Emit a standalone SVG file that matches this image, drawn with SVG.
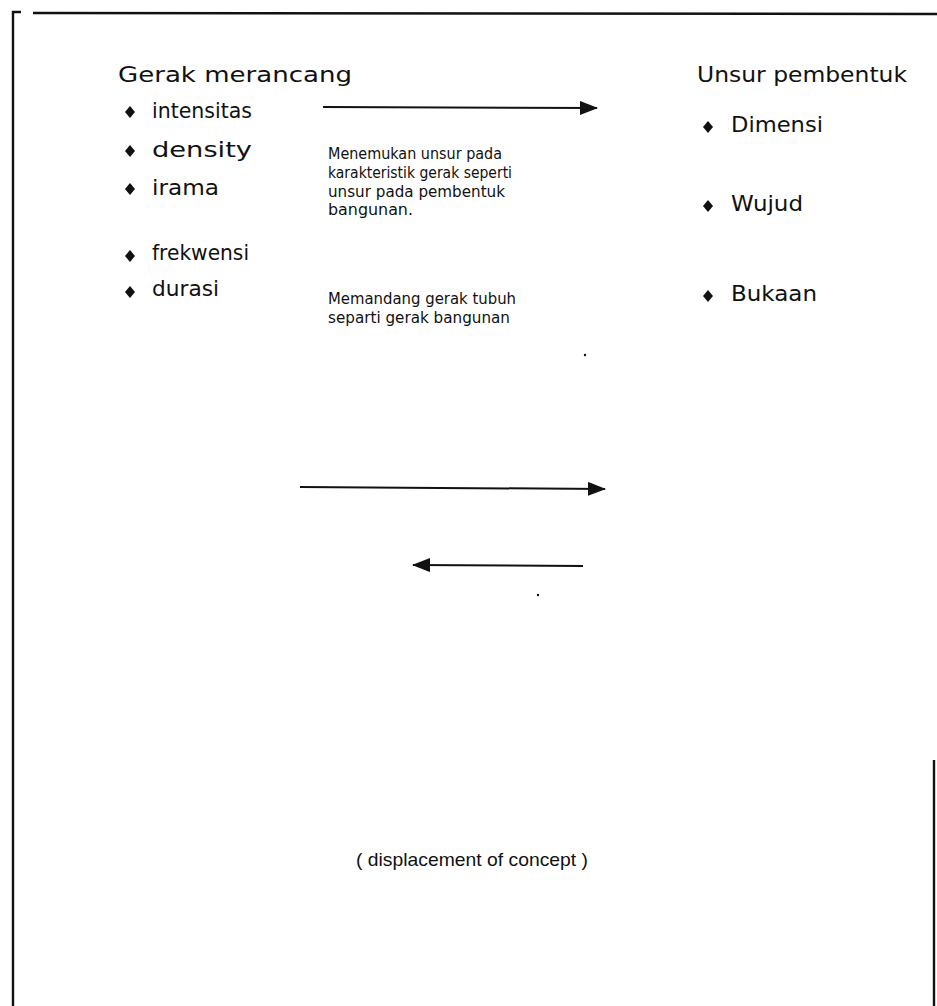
<svg xmlns="http://www.w3.org/2000/svg" width="937" height="1006" viewBox="0 0 937 1006">
<style>
text{font-family:"DejaVu Sans","Liberation Sans",sans-serif;fill:#111}
.h{font-size:21px}
.b{font-size:21px}
.m{font-size:15.5px}
.c{font-size:19px;font-family:"Liberation Sans","DejaVu Sans",sans-serif}
.line{stroke:#111;stroke-width:2;fill:none}
.border{stroke:#111;stroke-width:2.4;fill:none}
.dia{fill:#111}
</style>
<defs>
<marker id="ah" markerWidth="18" markerHeight="14" refX="17" refY="7" orient="auto" markerUnits="userSpaceOnUse">
<path d="M0,0 L18,7 L0,14 Z" fill="#111"/>
</marker>
<symbol id="d" viewBox="-5 -6 10 12"><path d="M0,-6 L5,0 L0,6 L-5,0 Z"/></symbol>
</defs>
<rect width="937" height="1006" fill="#fff"/>
<g id="border">
<path class="border" d="M13,1006 L13,12 L21,12"/>
<path class="border" d="M33,13 L937,14"/>
<path class="border" d="M934,760 L934,1006"/>
</g>
<g id="left">
<text class="h" x="118" y="82" textLength="234" lengthAdjust="spacingAndGlyphs">Gerak merancang</text>
<use href="#d" x="125" y="106" width="10" height="12" class="dia"/>
<text class="b" x="152" y="118" textLength="100" lengthAdjust="spacingAndGlyphs">intensitas</text>
<use href="#d" x="125" y="145" width="10" height="12" class="dia"/>
<text class="b" x="152" y="157" textLength="100" lengthAdjust="spacingAndGlyphs">density</text>
<use href="#d" x="125" y="183" width="10" height="12" class="dia"/>
<text class="b" x="152" y="195" textLength="67" lengthAdjust="spacingAndGlyphs">irama</text>
<use href="#d" x="125" y="250" width="10" height="12" class="dia"/>
<text class="b" x="152" y="260" textLength="97" lengthAdjust="spacingAndGlyphs">frekwensi</text>
<use href="#d" x="125" y="286" width="10" height="12" class="dia"/>
<text class="b" x="152" y="296" textLength="67" lengthAdjust="spacingAndGlyphs">durasi</text>
</g>
<g id="middle">
<text class="m" x="328" y="159" textLength="174" lengthAdjust="spacingAndGlyphs">Menemukan unsur pada</text>
<text class="m" x="328" y="178" textLength="184" lengthAdjust="spacingAndGlyphs">karakteristik gerak seperti</text>
<text class="m" x="328" y="197" textLength="177" lengthAdjust="spacingAndGlyphs">unsur pada pembentuk</text>
<text class="m" x="328" y="215" textLength="85" lengthAdjust="spacingAndGlyphs">bangunan.</text>
<text class="m" x="328" y="304" textLength="188" lengthAdjust="spacingAndGlyphs">Memandang gerak tubuh</text>
<text class="m" x="328" y="323" textLength="182" lengthAdjust="spacingAndGlyphs">separti gerak bangunan</text>
</g>
<g id="right">
<text class="h" x="697" y="82" textLength="210" lengthAdjust="spacingAndGlyphs">Unsur pembentuk</text>
<use href="#d" x="703" y="121" width="10" height="12" class="dia"/>
<text class="b" x="731" y="132" textLength="92" lengthAdjust="spacingAndGlyphs">Dimensi</text>
<use href="#d" x="703" y="200" width="10" height="12" class="dia"/>
<text class="b" x="731" y="211" textLength="72" lengthAdjust="spacingAndGlyphs">Wujud</text>
<use href="#d" x="703" y="290" width="10" height="12" class="dia"/>
<text class="b" x="731" y="301" textLength="86" lengthAdjust="spacingAndGlyphs">Bukaan</text>
</g>
<g id="connectors">
<line class="line" x1="323" y1="107" x2="597" y2="108" marker-end="url(#ah)"/>
<line class="line" x1="300" y1="487" x2="605" y2="489" marker-end="url(#ah)"/>
<line class="line" x1="583" y1="566" x2="413" y2="565" marker-end="url(#ah)"/>
</g>
<g id="marks">
<circle cx="585" cy="355" r="1.2" fill="#111"/>
<circle cx="538" cy="595" r="1.2" fill="#111"/>
</g>
<g id="caption">
<text class="c" x="472" y="866" text-anchor="middle" textLength="232" lengthAdjust="spacingAndGlyphs">( displacement of concept )</text>
</g>
</svg>
